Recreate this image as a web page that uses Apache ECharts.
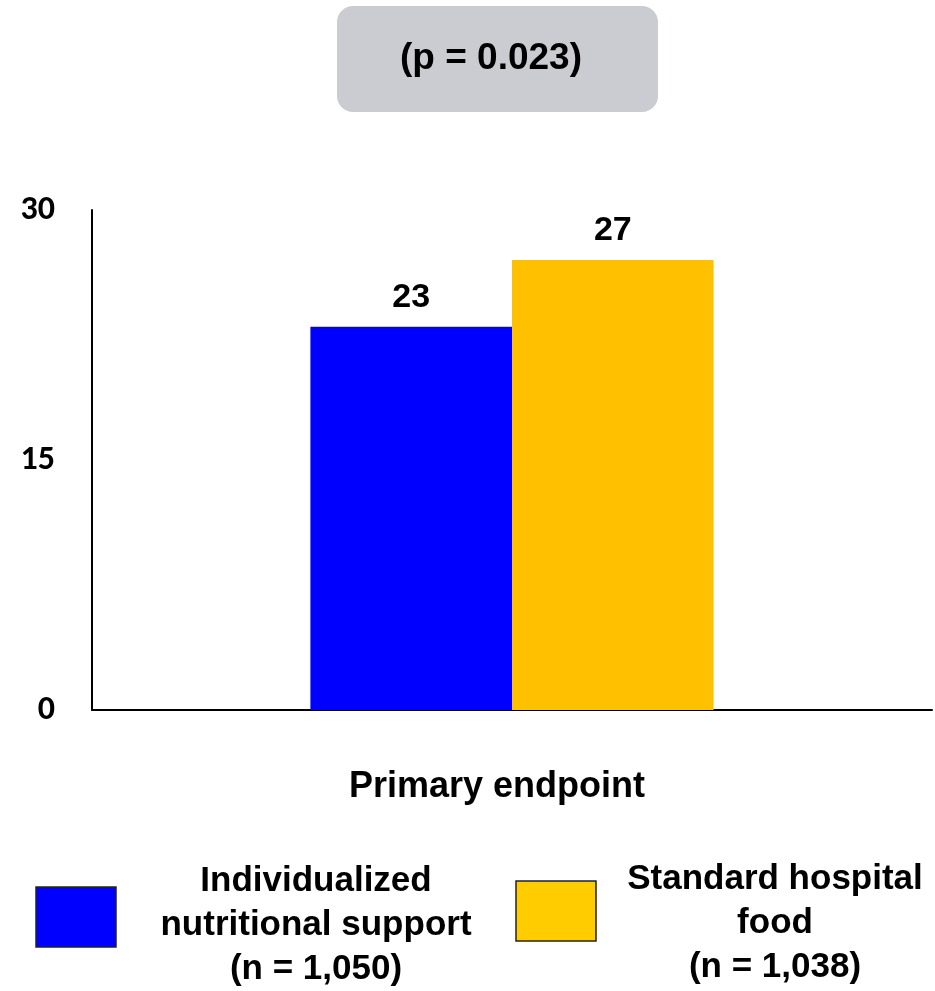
<!DOCTYPE html>
<html>
<head>
<meta charset="utf-8">
<script src="https://cdn.jsdelivr.net/npm/echarts@6/dist/echarts.min.js"></script>
<style>
  html, body { margin: 0; padding: 0; background: #fff; }
  #chart { width: 935px; height: 991px; }
</style>
</head>
<body>
<div id="chart"></div>
<script>
// Data
const categories = ['Primary endpoint'];
const seriesNames = ['Individualized nutritional support', 'Standard hospital food'];
const legendLines = [
  ['Individualized', 'nutritional support', '(n = 1,050)'],
  ['Standard hospital', 'food', '(n = 1,038)']
];
const supportValues = [23];
const hospitalValues = [27];
const yTicks = [0, 15, 30];
const pValueText = '(p = 0.023)';

const colors = ['#0000ff', '#ffc000'];
const legendColors = ['#0000ff', '#ffcc00'];

const chart = echarts.init(document.getElementById('chart'));

const labelStyle = {
  show: true,
  position: 'top',
  distance: 12,
  fontFamily: 'Liberation Sans, Arial, sans-serif',
  fontWeight: 'bold',
  fontSize: 34,
  color: '#000'
};

function legendBlock(i, boxX, boxY, textX, textY) {
  return [
    {
      type: 'rect',
      shape: { x: boxX, y: boxY, width: 80, height: 60 },
      style: { fill: legendColors[i], stroke: '#222', lineWidth: 1.5 }
    },
    {
      type: 'text',
      x: textX,
      y: textY,
      style: {
        text: legendLines[i].join('\n'),
        align: 'center',
        verticalAlign: 'top',
        lineHeight: 44,
        fontFamily: 'Liberation Sans, Arial, sans-serif',
        fontWeight: 'bold',
        fontSize: 35,
        fill: '#000'
      }
    }
  ];
}

chart.setOption({
  animation: false,
  grid: { left: 92, right: 3, top: 210, bottom: 281, containLabel: false },
  xAxis: {
    type: 'category',
    data: categories,
    axisLine: { lineStyle: { color: '#000', width: 2 } },
    axisTick: { show: false },
    axisLabel: { show: false }
  },
  yAxis: {
    type: 'value',
    min: yTicks[0],
    max: yTicks[yTicks.length - 1],
    interval: yTicks[1] - yTicks[0],
    axisLine: { show: true, lineStyle: { color: '#000', width: 2 } },
    axisTick: { show: false },
    splitLine: { show: false },
    axisLabel: {
      margin: 37,
      fontFamily: 'Carlito, Liberation Sans, Arial, sans-serif',
      fontWeight: 'bold',
      fontSize: 34,
      color: '#000'
    }
  },
  series: [
    {
      name: seriesNames[0],
      type: 'bar',
      data: supportValues,
      barGap: '0%',
      barCategoryGap: '52%',
      itemStyle: { color: colors[0] },
      label: labelStyle
    },
    {
      name: seriesNames[1],
      type: 'bar',
      data: hospitalValues,
      itemStyle: { color: colors[1] },
      label: labelStyle
    }
  ],
  graphic: [
    {
      type: 'rect',
      shape: { x: 337, y: 6, width: 321, height: 106, r: 16 },
      style: { fill: '#cbccd1' }
    },
    {
      type: 'text',
      x: 491,
      y: 59,
      style: {
        text: pValueText,
        align: 'center',
        verticalAlign: 'middle',
        fontFamily: 'Liberation Sans, Arial, sans-serif',
        fontWeight: 'bold',
        fontSize: 37,
        fill: '#000'
      }
    },
    {
      type: 'text',
      x: 497,
      y: 787,
      style: {
        text: categories[0],
        align: 'center',
        verticalAlign: 'middle',
        fontFamily: 'Liberation Sans, Arial, sans-serif',
        fontWeight: 'bold',
        fontSize: 36,
        fill: '#000'
      }
    },
    ...legendBlock(0, 36, 887, 316, 859),
    ...legendBlock(1, 516, 881, 775, 857)
  ]
});
</script>
</body>
</html>
